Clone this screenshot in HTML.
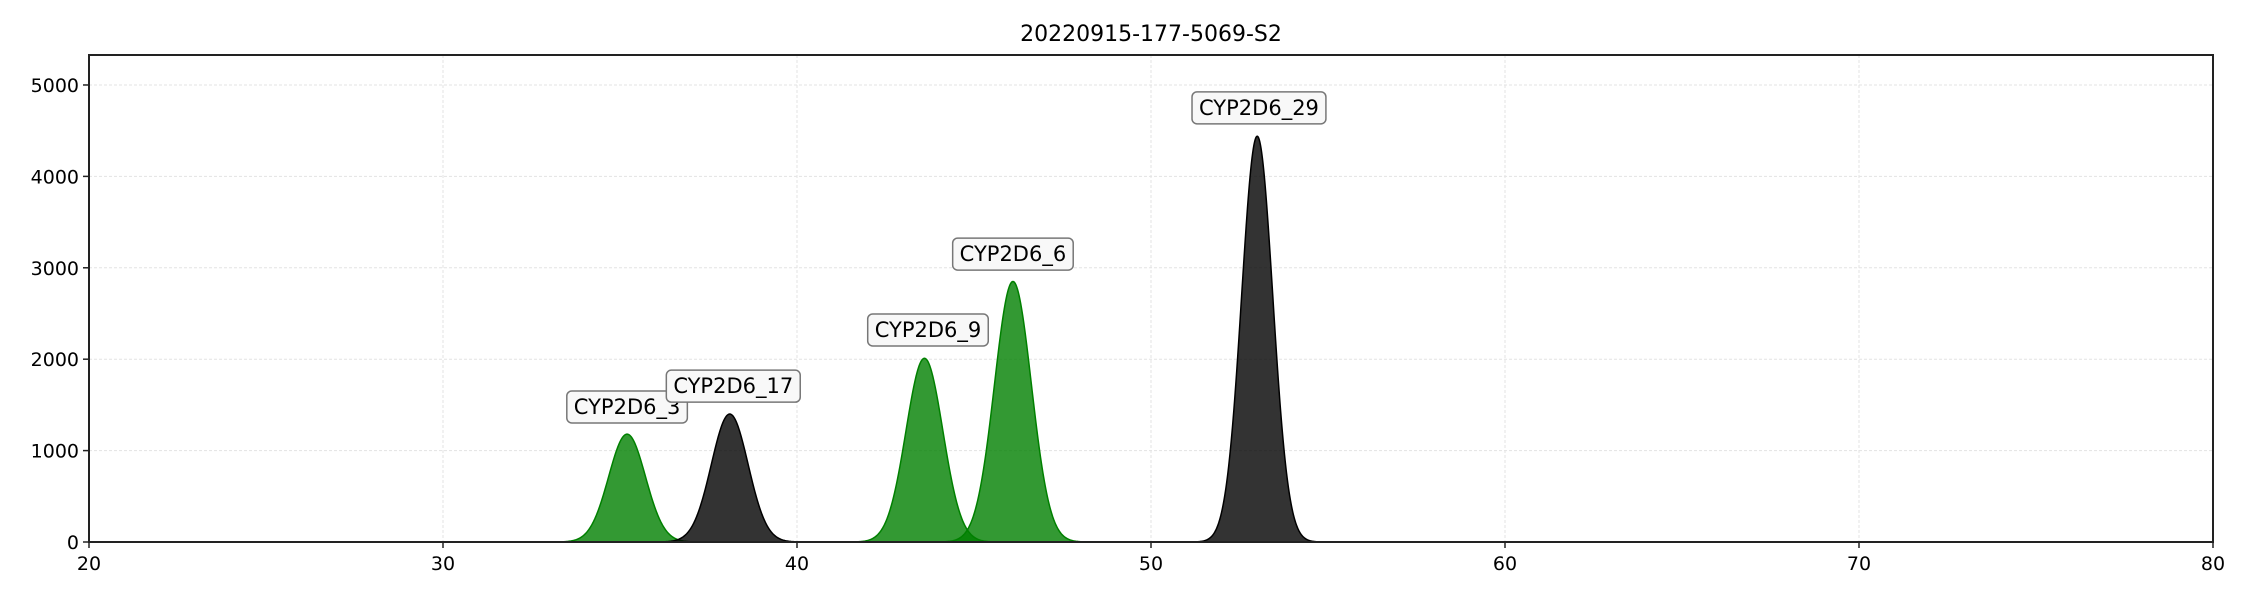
<!DOCTYPE html>
<html><head><meta charset="utf-8"><style>
html,body{margin:0;padding:0;background:#fff}
svg{display:block;font-family:"DejaVu Sans","Liberation Sans",sans-serif}
</style></head><body>
<svg id="chart" width="2250" height="600" xmlns="http://www.w3.org/2000/svg">
<text x="1151" y="41" font-size="22" text-anchor="middle" fill="#000">20220915-177-5069-S2</text>
<g id="grid"></g>
<g id="peaks"></g>
<rect x="89" y="55" width="2124" height="487" fill="none" stroke="#222" stroke-width="2"/>
<g id="axes"></g>
<g id="labels"></g>
</svg>
<script>
const peakNames = ["CYP2D6_3","CYP2D6_17","CYP2D6_9","CYP2D6_6","CYP2D6_29"];
const peakCenters = [35.2, 38.1, 43.6, 46.1, 53.0];
const peakHeights = [1180, 1400, 2010, 2850, 4440];
const peakWidths = [0.52, 0.52, 0.52, 0.52, 0.44];
const peakColors = ["green","black","green","green","black"];
const labelX = [35.2, 38.2, 43.7, 46.1, 53.05];
const labelY = [1477, 1705, 2320, 3150, 4750];
const xTicks = [20,30,40,50,60,70,80];
const yTicks = [0,1000,2000,3000,4000,5000];

const X0=89,X1=2213,Y0=542,Y1=55,xmin=20,xmax=80,ymin=0,ymax=5328;
const sx=v=>X0+(v-xmin)/(xmax-xmin)*(X1-X0);
const sy=v=>Y0-(v-ymin)/(ymax-ymin)*(Y0-Y1);
const NS="http://www.w3.org/2000/svg";
function mk(t,a,p){const e=document.createElementNS(NS,t);for(const k in a)e.setAttribute(k,a[k]);p.appendChild(e);return e;}
const grid=document.getElementById('grid'),axes=document.getElementById('axes'),pk=document.getElementById('peaks'),lb=document.getElementById('labels');
xTicks.forEach(t=>{
  const x=sx(t);
  const g=mk('line',{x1:x,x2:x,y1:Y1,y2:Y0,stroke:'#e3e3e3','stroke-dasharray':'3,2','stroke-width':1},grid);
  
  
  const tk=mk('line',{x1:x,x2:x,y1:Y0,y2:Y0+6,stroke:'#222','stroke-width':1.5},axes);
  
  
  const tx=mk('text',{x:x,y:Y0+28,'font-size':19,'text-anchor':'middle'},axes);
  tx.textContent=t;
  
  
});
yTicks.forEach(t=>{
  const y=sy(t);
  const g=mk('line',{x1:X0,x2:X1,y1:y,y2:y,stroke:'#e3e3e3','stroke-dasharray':'3,2','stroke-width':1},grid);
  
  
  const tk=mk('line',{x1:X0-6,x2:X0,y1:y,y2:y,stroke:'#222','stroke-width':1.5},axes);
  
  
  const tx=mk('text',{x:X0-10,y:y+7,'font-size':19,'text-anchor':'end'},axes);
  tx.textContent=t;
  
  
});
peakNames.forEach((n,i)=>{
  const c=peakCenters[i],h=peakHeights[i],s=peakWidths[i];
  let d='M'+sx(c-5*s)+','+sy(0);
  let line='';
  for(let k=0;k<=240;k++){const v=c-5*s+10*s*k/240;const y=h*Math.exp(-0.5*((v-c)/s)**2);
    d+=' L'+sx(v).toFixed(2)+','+sy(y).toFixed(2);
    line+=(k?' L':'M')+sx(v).toFixed(2)+','+sy(y).toFixed(2);}
  d+=' L'+sx(c+5*s)+','+sy(0)+' Z';
  const fill=peakColors[i]==='green'?'#008000':'#000';
  const p=mk('path',{d:d,fill:fill,'fill-opacity':0.8,stroke:'none'},pk);
  
  
  const l=mk('path',{d:line,fill:'none',stroke:fill,'stroke-width':1.5},pk);
  
  
  const g=mk('g',{},lb);
  
  
  const t=mk('text',{x:sx(labelX[i]),y:sy(labelY[i])+7,'font-size':21,'text-anchor':'middle'},g);
  t.textContent=n;
  const bb=t.getBBox();
  const r=mk('rect',{x:bb.x-7,y:sy(labelY[i])-16,width:bb.width+14,height:32,rx:5,fill:'#f8f8f8',stroke:'#777','stroke-width':1.5},g);
  g.insertBefore(r,t);
});
</script>
</body></html>
